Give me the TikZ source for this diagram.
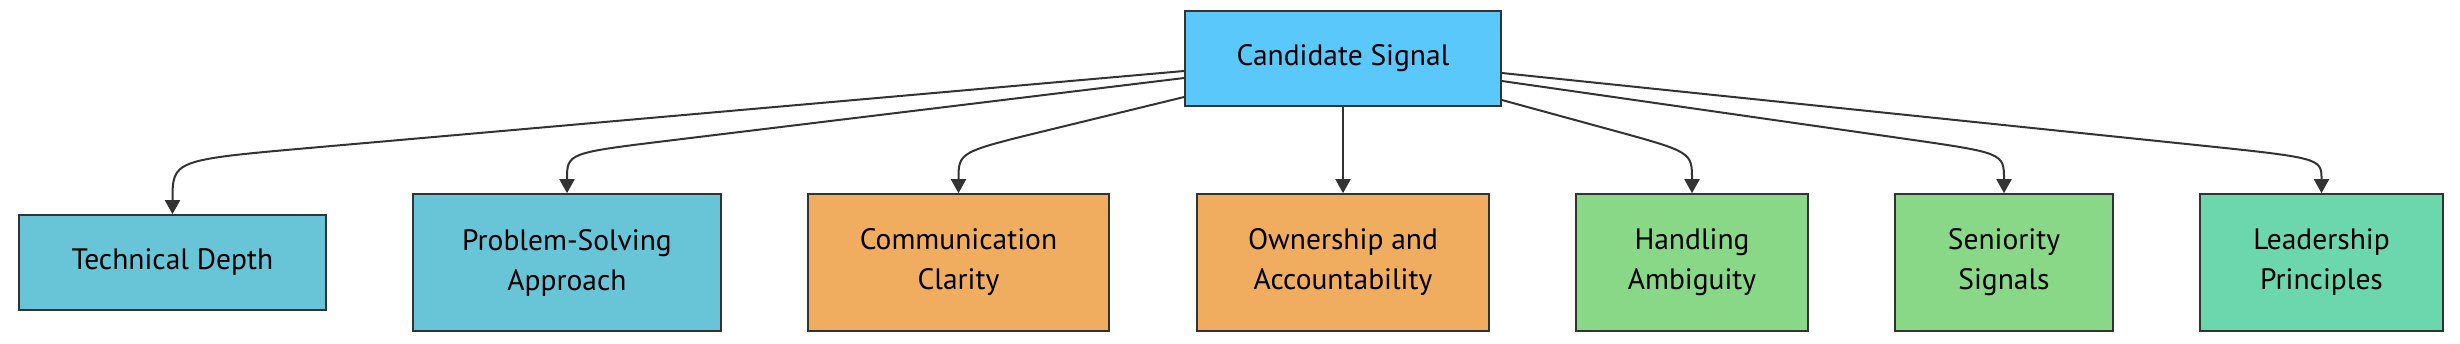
\documentclass[tikz,border=0pt]{standalone}
\usepackage{fontspec}
\setmainfont{PT Sans}
\usetikzlibrary{arrows.meta,calc}
\definecolor{cblue}{HTML}{5AC8FA}
\definecolor{tblue}{HTML}{68C5D8}
\definecolor{corange}{HTML}{F0AD60}
\definecolor{cgreen}{HTML}{88D888}
\definecolor{cteal}{HTML}{6CD6AC}
\definecolor{lineclr}{HTML}{333333}
\begin{document}
\begin{tikzpicture}[x=1pt,y=-1pt,
 box/.style={draw=lineclr, line width=1.6pt, inner sep=0pt, align=center,
   font=\fontsize{29.5}{40}\selectfont, text=black},
 edge/.style={draw=lineclr, line width=2pt, -{Triangle[width=15pt,length=14pt]}}]
\useasboundingbox (0,0) rectangle (2460,344);
\node[box, fill=cblue, minimum width=316pt, minimum height=95pt] (cs) at (1343,58.5) {Candidate Signal};
\node[box, fill=tblue, minimum width=307pt, minimum height=95pt] (td) at (172.5,262.5) {Technical Depth};
\node[box, fill=tblue, minimum width=308pt, minimum height=137pt] (ps) at (567,262.5) {Problem-Solving\\Approach};
\node[box, fill=corange, minimum width=301pt, minimum height=137pt] (cc) at (958.5,262.5) {Communication\\Clarity};
\node[box, fill=corange, minimum width=292pt, minimum height=137pt] (oa) at (1343,262.5) {Ownership and\\Accountability};
\node[box, fill=cgreen, minimum width=232pt, minimum height=137pt] (ha) at (1692,262.5) {Handling\\Ambiguity};
\node[box, fill=cgreen, minimum width=218pt, minimum height=137pt] (ss) at (2004,262.5) {Seniority\\Signals};
\node[box, fill=cteal, minimum width=243pt, minimum height=137pt] (lp) at (2321.5,262.5) {Leadership\\Principles};
% start points
\coordinate (s1) at ([yshift=-12.5pt]cs.west);
\coordinate (s2) at ([yshift=-19.5pt]cs.west);
\coordinate (s3) at ([yshift=-38.5pt]cs.west);
\coordinate (s5) at ([yshift=-41.5pt]cs.east);
\coordinate (s6) at ([yshift=-22.5pt]cs.east);
\coordinate (s7) at ([yshift=-14.5pt]cs.east);
% knee points
\coordinate (k1) at (td.north |- 0,160);
\coordinate (k2) at (ps.north |- 0,153);
\coordinate (k3) at (cc.north |- 0,152);
\coordinate (k5) at (ha.north |- 0,152);
\coordinate (k6) at (ss.north |- 0,153);
\coordinate (k7) at (lp.north |- 0,158);
\draw[edge] (s1) -- ($(s1)!0.86!(k1)$) .. controls (k1) .. (td.north);
\draw[edge] (s2) -- ($(s2)!0.83!(k2)$) .. controls (k2) .. (ps.north);
\draw[edge] (s3) -- ($(s3)!0.6!(k3)$) .. controls (k3) .. (cc.north);
\draw[edge] (cs.south) -- (oa.north);
\draw[edge] (s5) -- ($(s5)!0.57!(k5)$) .. controls (k5) .. (ha.north);
\draw[edge] (s6) -- ($(s6)!0.8!(k6)$) .. controls (k6) .. (ss.north);
\draw[edge] (s7) -- ($(s7)!0.84!(k7)$) .. controls (k7) .. (lp.north);
\end{tikzpicture}
\end{document}
